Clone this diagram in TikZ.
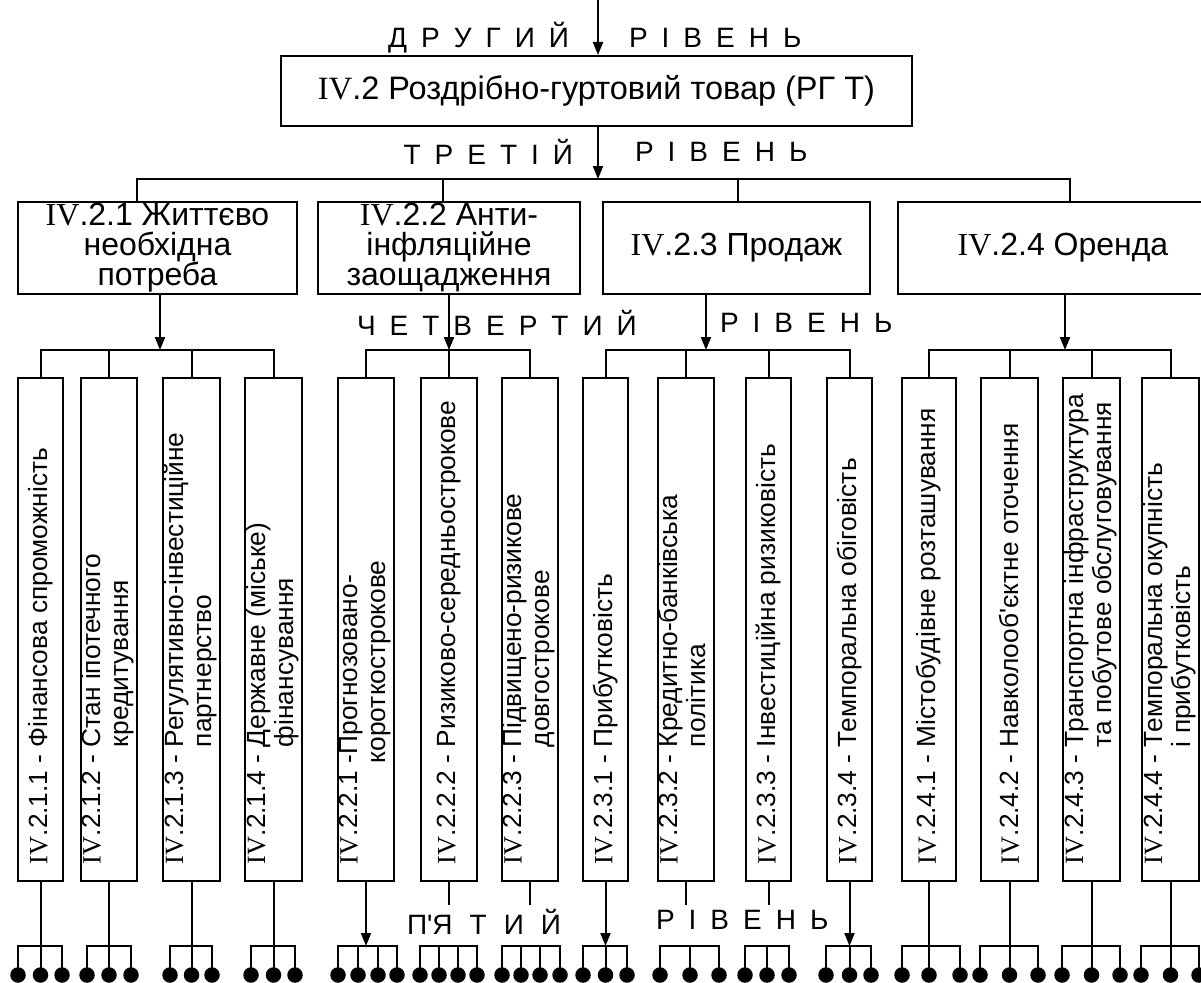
\documentclass[tikz,border=0pt]{standalone}
\usepackage{fontspec}
\setmainfont{Liberation Sans}[Ligatures=TeXOff]
\newfontfamily\tnr{Liberation Serif}
\usetikzlibrary{arrows.meta,calc}
\newcommand\RN{{\tnr IV}}
\newcommand\lsp{\hspace{14pt}}
\newcommand\ml[1]{\begin{tabular}[t]{@{}l@{}}#1\end{tabular}}
\newcommand\grpthree[4]{%
  \node[dot] (#1a) at (#2,975) {};
  \node[dot] (#1b) at (#3,975) {};
  \node[dot] (#1c) at (#4,975) {};
  \draw (#1a.center) |- (#1c.center |- y5) -- (#1c.center);
  \draw (#1b.center) -- (#1b.center |- y5);}
\newcommand\grpfour[5]{%
  \node[dot] (#1a) at (#2,975) {};
  \node[dot] (#1b) at (#3,975) {};
  \node[dot] (#1c) at (#4,975) {};
  \node[dot] (#1d) at (#5,975) {};
  \draw (#1a.center) |- (#1d.center |- y5) -- (#1d.center);
  \draw (#1b.center) -- (#1b.center |- y5);
  \draw (#1c.center) -- (#1c.center |- y5);}
\begin{document}
\begin{tikzpicture}[x=1pt,y=-1pt,line width=2pt,
  box/.style={draw,inner sep=0pt,align=center},
  tbox/.style={box,minimum height=92pt,font=\fontsize{32}{30}\selectfont},
  lbox/.style={draw,inner sep=0pt,minimum height=503pt,minimum width=#1},
  vtext/.style={rotate=90,anchor=west,inner sep=0pt,font=\fontsize{26.3}{28}\selectfont},
  lbl/.style={inner sep=0pt,font=\fontsize{28}{30}\selectfont},
  arr/.style={-{Triangle[length=13pt,width=10pt]}},
  dot/.style={circle,fill,draw=none,inner sep=0pt,minimum size=15.5pt}]
\useasboundingbox (0,0) rectangle (1201,982);
\clip (0,0) rectangle (1201,982);

% ---- level 2
\node[box,minimum width=631pt,minimum height=70pt,font=\fontsize{32.5}{34}\selectfont] (L2) at (596.5,91) {\RN.2 Роздрібно-гуртовий товар (РГ Т)};
\coordinate (top) at (598,0);
\draw[arr] (top) -- (top |- L2.north);
\node[lbl,anchor=east] (l2a) at (570,38) {Д\lsp Р\lsp У\lsp Г\lsp И\lsp Й};
\node[lbl,anchor=west] (l2b) at (628,38) {Р\lsp І\lsp В\lsp Е\lsp Н\lsp Ь};

% ---- level 3
\node[tbox,minimum width=279pt] (A) at (157.5,248) {\RN.2.1 Життєво\\необхідна\\потреба};
\node[tbox,minimum width=262pt] (B) at (449,248) {\RN.2.2 Анти-\\інфляційне\\заощадження};
\node[tbox,minimum width=267pt] (C) at (736.5,248) {\RN.2.3 Продаж};
\node[tbox,minimum width=330pt] (D) at (1063,248) {\RN.2.4 Оренда};
\coordinate (y3) at (0,179);
\draw[arr] (top |- L2.south) -- (top |- y3);
\coordinate (jA) at (137,179);
\coordinate (jB) at (443,179);
\coordinate (jC) at (738,179);
\coordinate (jD) at (1070,179);
\draw (jA |- A.north) -- (jA) -- (jD) -- (jD |- D.north);
\draw (jB) -- (jB |- B.north);
\draw (jC) -- (jC |- C.north);
\node[lbl,anchor=east] (l3a) at (574,152) {Т\lsp Р\lsp Е\lsp Т\lsp І\lsp Й};
\node[lbl,anchor=west] (l3b) at (634,152) {Р\lsp І\lsp В\lsp Е\lsp Н\lsp Ь};

% ---- level 4 boxes
\foreach \n/\x/\w in {211/40.5/45,212/109/56,213/191.5/57,214/273.5/57,
  221/366/56,222/449/56,223/530/56,
  231/605.5/45,232/686/56,233/768.5/45,234/849.5/45,
  241/929/54,242/1009.5/57,243/1091.5/57,244/1170.5/57}
  \node[lbox=\w] (b\n) at (\x,629.5) {};

\coordinate (y4) at (0,350);
\coordinate (xA) at (160,0);
\coordinate (xC) at (706,0);
\coordinate (xD) at (1065,0);
\draw (b211.north) -- (b211.north |- y4) -- (b214.north |- y4) -- (b214.north);
\draw (b212.north) -- (b212.north |- y4);
\draw (b213.north) -- (b213.north |- y4);
\draw[arr] (xA |- A.south) -- (xA |- y4);
\draw (b221.north) -- (b221.north |- y4) -- (b223.north |- y4) -- (b223.north);
\draw (b222.north) -- (b222.north |- y4);
\draw[arr] (B.south) -- (B.south |- y4);
\draw (b231.north) -- (b231.north |- y4) -- (b234.north |- y4) -- (b234.north);
\draw (b232.north) -- (b232.north |- y4);
\draw (b233.north) -- (b233.north |- y4);
\draw[arr] (xC |- C.south) -- (xC |- y4);
\draw (b241.north) -- (b241.north |- y4) -- (b244.north |- y4) -- (b244.north);
\draw (b242.north) -- (b242.north |- y4);
\draw (b243.north) -- (b243.north |- y4);
\draw[arr] (xD |- D.south) -- (xD |- y4);
\node[lbl,anchor=west] (l4a) at (356,323) {Ч\lsp Е\lsp Т\lsp В\lsp Е\lsp Р\lsp Т\lsp И\lsp Й};
\node[lbl,anchor=west] (l4b) at (719,323) {Р\lsp І\lsp В\lsp Е\lsp Н\lsp Ь};

% ---- level 4 texts
\node[vtext] (t211) at ($(b211.south)+(0,-17)$) {\RN.2.1.1 - Фінансова спроможність};
\node[vtext] (t212) at ($(b212.south)+(0,-17)$) {\RN.2.1.2 - \ml{Стан іпотечного\\кредитування}};
\node[vtext] (t213) at ($(b213.south)+(0,-17)$) {\RN.2.1.3 - \ml{Регулятивно-інвестиційне\\партнерство}};
\node[vtext] (t214) at ($(b214.south)+(0,-17)$) {\RN.2.1.4 - \ml{Державне (міське)\\фінансування}};
\node[vtext] (t221) at ($(b221.south)+(0,-17)$) {\RN.2.2.1 \ml{-Прогнозовано-\\короткострокове}};
\node[vtext] (t222) at ($(b222.south)+(0,-17)$) {\RN.2.2.2 - Ризиково-середньострокове};
\node[vtext] (t223) at ($(b223.south)+(0,-17)$) {\RN.2.2.3 - \ml{Підвищено-ризикове\\довгострокове}};
\node[vtext] (t231) at ($(b231.south)+(0,-17)$) {\RN.2.3.1 - Прибутковість};
\node[vtext] (t232) at ($(b232.south)+(0,-17)$) {\RN.2.3.2 - \ml{Кредитно-банківська\\політика}};
\node[vtext] (t233) at ($(b233.south)+(0,-17)$) {\RN.2.3.3 - Інвестиційна ризиковість};
\node[vtext] (t234) at ($(b234.south)+(0,-17)$) {\RN.2.3.4 - Темпоральна обіговість};
\node[vtext] (t241) at ($(b241.south)+(0,-17)$) {\RN.2.4.1 - Містобудівне розташування};
\node[vtext] (t242) at ($(b242.south)+(0,-17)$) {\RN.2.4.2 - Навколооб'єктне оточення};
\node[vtext] (t243) at ($(b243.south)+(0,-17)$) {\RN.2.4.3 - \ml{Транспортна інфраструктура\\та побутове обслуговування}};
\node[vtext] (t244) at ($(b244.south)+(0,-17)$) {\RN.2.4.4 - \ml{Темпоральна окупність\\і прибутковість}};

% ---- level 5
\coordinate (y5) at (0,946);
\grpthree{g211}{18}{40.5}{62}
\grpthree{g212}{87}{109}{131}
\grpthree{g213}{170}{191.5}{212}
\grpthree{g214}{251}{273.5}{295}
\grpfour{g221}{338}{358}{378}{397}
\grpfour{g222}{420}{439}{458}{477}
\grpfour{g223}{502}{521}{540}{560}
\grpthree{g231}{583}{605.5}{627}
\grpthree{g232}{660}{690}{719}
\grpthree{g233}{745}{767}{789}
\grpthree{g234}{826}{849.5}{871}
\grpthree{g241}{902}{929}{960}
\grpthree{g242}{980}{1009.5}{1038}
\grpthree{g243}{1062}{1091.5}{1120}
\grpthree{g244}{1141}{1170.5}{1199}

\foreach \n in {211,212,213,214,241,242,243,244}
  \draw (b\n.south) -- (b\n.south |- y5);
\foreach \n in {221,231,234}
  \draw[arr] (b\n.south) -- (b\n.south |- y5);
\foreach \n in {222,223,232,233}{
  \coordinate (s\n) at ($(b\n.south)+(0,23)$);
  \draw (b\n.south) -- (s\n);}
\node[lbl,anchor=west] (l5a) at (406,922) {П'Я\hspace{17pt}Т\hspace{17pt}И\hspace{17pt}Й};
\node[lbl,anchor=west] (l5b) at (655,920) {Р\lsp І\lsp В\lsp Е\lsp Н\lsp Ь};
\end{tikzpicture}
\end{document}
